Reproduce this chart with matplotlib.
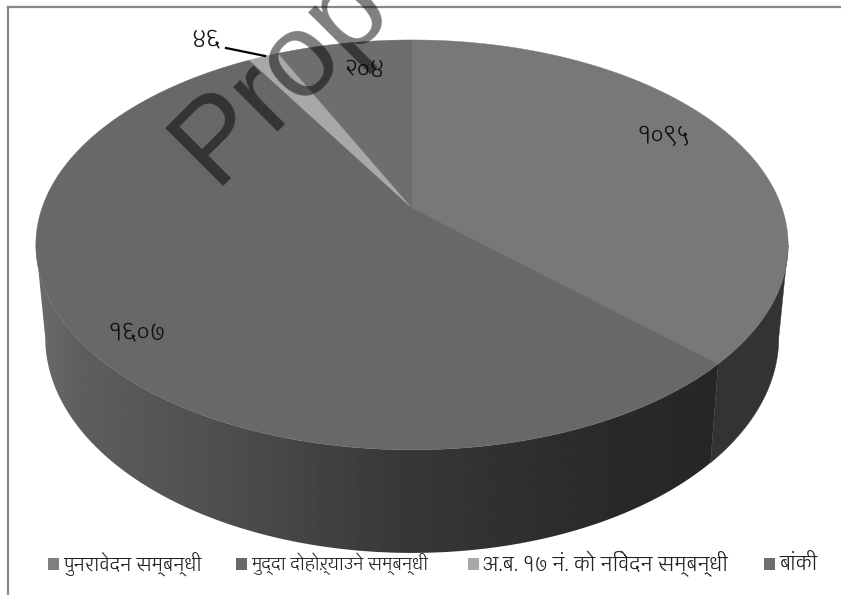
import numpy as np
import matplotlib
matplotlib.use('Agg')
import matplotlib.pyplot as plt
from matplotlib.patches import Polygon, Rectangle

categories = ['पुनरावेदन सम्बन्धी', 'मुद्दा दोहोऱ्याउने सम्बन्धी', 'अ.ब. १७ नं. को निवेदन सम्बन्धी', 'बांकी']
values = [1095, 1607, 46, 204]
value_labels = ['१०९५', '१६०७', '४६', '२०४']
top_colors = ['#787878', '#686868', '#a8a8a8', '#6e6e6e']
legend_colors = ['#808080', '#686868', '#a8a8a8', '#6e6e6e']

DEVA = ['Glegoo', 'Noto Sans Devanagari', 'DejaVu Sans']

W, H = 841, 595
fig = plt.figure(figsize=(W / 100, H / 100), dpi=100)
ax = fig.add_axes([0, 0, 1, 1])

CX, CY, A, B, K = 412, 208, 370, 198.3, 0.18


def project(theta, sx=1.0, sy=1.0, cy=CY):
    u, v = np.sin(theta), np.cos(theta)
    w = 1 + K * v
    return CX + sx * A * u / w, cy - sy * B * v / w


def wall(t0, t1):
    ths = np.linspace(t0, t1, 300)
    xt, yt = project(ths)
    xb, yb = project(ths, 0.975, 1.05, 299)
    return np.column_stack([np.r_[xt, xb[::-1]], np.r_[yt, yb[::-1]]])


edges = np.radians(np.concatenate([[0], np.cumsum(values)]) / np.sum(values) * 360)
# the rim is widest here, so the wall's visible part starts and ends at these angles
widest = np.arccos(-K)

# side wall: flat shade for the first slice, horizontal gradient for the second
ax.add_patch(Polygon(wall(widest, edges[1]), closed=True, fc='#333333', ec='#333333', lw=0.3, zorder=2))
grad_x = np.arange(30, 720)
grad = np.interp(grad_x, [37, 80, 240, 400, 600, 718], [0.42, 0.37, 0.30, 0.22, 0.165, 0.15])
clip = Polygon(wall(edges[1], 2 * np.pi - widest), closed=True, transform=ax.transData, fc='none', ec='none')
ax.add_patch(clip)
im = ax.imshow(grad[None, :], extent=(30, 720, 560, 240), cmap='gray', vmin=0, vmax=1,
               aspect='auto', zorder=2, interpolation='bilinear')
im.set_clip_path(clip)

# top faces
for i, c in enumerate(top_colors):
    ths = np.linspace(edges[i], edges[i + 1], 200)
    xs, ys = project(ths)
    ax.add_patch(Polygon(np.column_stack([np.r_[CX, xs], np.r_[CY, ys]]), closed=True,
                         fc=c, ec=c, lw=0.3, zorder=3))

# value labels
label_pos = [(663, 137), (137, 333), (206, 40), (364, 71)]
for s, (x, y) in zip(value_labels, label_pos):
    ax.text(x, y, s, ha='center', va='center', fontsize=16, color='#111111', family=DEVA, zorder=5)
ax.plot([226, 265], [48, 56], color='black', lw=1.6, zorder=5)

# legend
leg_sq = [48, 236, 468, 764]
leg_size = [12.5, 11.5, 13.4, 13.5]
for s, c, x, fs in zip(categories, legend_colors, leg_sq, leg_size):
    ax.add_patch(Rectangle((x, 558), 11, 12, fc=c, ec='none', zorder=5))
    ax.text(x + 15, 564, s, ha='left', va='center', fontsize=fs, color='#222222', family=DEVA, zorder=5)

# frame
ax.plot([8, 8], [595, 7], color='#888888', lw=1.6, zorder=6)
ax.plot([8, 841], [7, 7], color='#888888', lw=1.6, zorder=6)

# watermark
ax.text(214, 186, 'Prop', rotation=45, rotation_mode='anchor', ha='left', va='baseline',
        fontsize=86, family='Liberation Sans', color='black', alpha=0.5, zorder=7, clip_on=True)

ax.set_xlim(0, W)
ax.set_ylim(H, 0)
ax.axis('off')
fig.savefig('out.png', dpi=100)
